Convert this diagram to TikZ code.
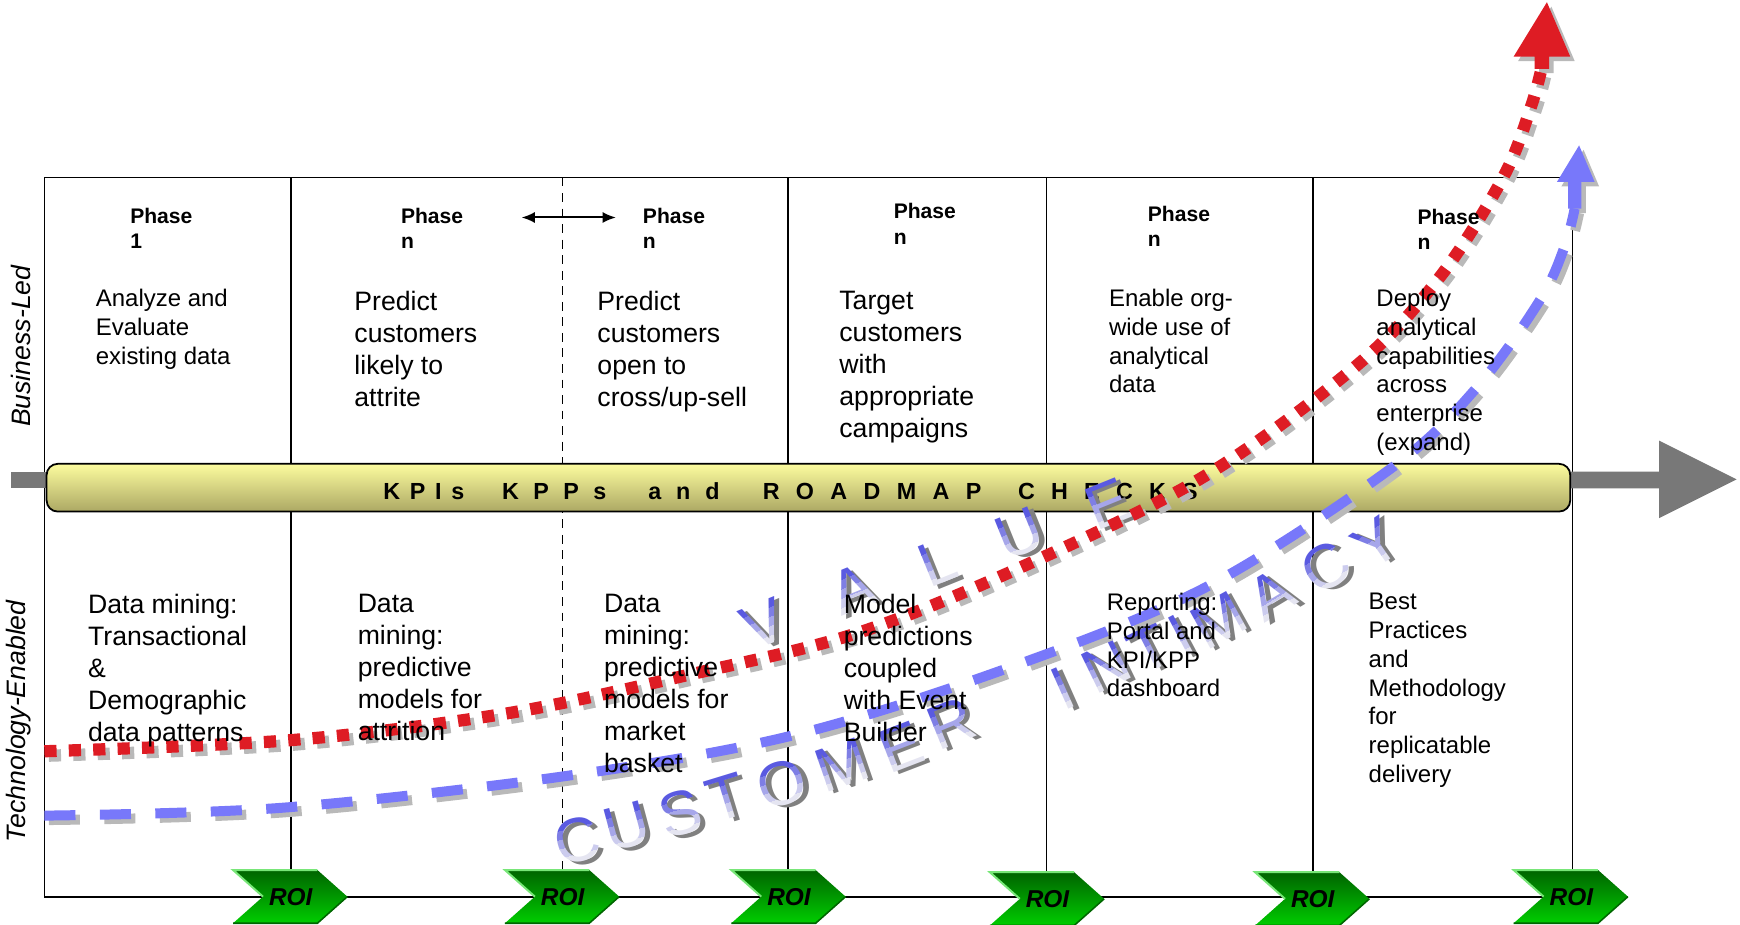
\documentclass[tikz,border=0pt]{standalone}
\usepackage{fontspec}
\setmainfont{Liberation Sans}
\usetikzlibrary{arrows.meta}
\definecolor{redc}{RGB}{222,28,36}
\definecolor{bluec}{RGB}{120,120,250}
\definecolor{shadowc}{RGB}{185,185,185}
\definecolor{arrowgray}{RGB}{120,120,120}
\definecolor{barTop}{RGB}{252,252,158}
\definecolor{barBot}{RGB}{172,168,100}
\definecolor{roiDark}{RGB}{0,100,0}
\definecolor{roiLight}{RGB}{0,205,0}
\definecolor{roiEdge}{RGB}{120,230,120}
\definecolor{gblue}{RGB}{90,90,225}
\definecolor{valwhite}{RGB}{236,236,242}
\definecolor{lettershade}{RGB}{128,128,128}
\tikzset{
  frameline/.style={line width=0.8pt, black},
  phase/.style={font=\fontsize{9.5}{11.5}\selectfont\bfseries, anchor=north west, align=left, inner sep=0pt},
  bigtxt/.style={font=\fontsize{12}{14.4}\selectfont, anchor=north west, align=left, inner sep=0pt},
  smalltxt/.style={font=\fontsize{10.8}{13}\selectfont, anchor=north west, align=left, inner sep=0pt},
  sidelabel/.style={font=\fontsize{12}{14}\selectfont\itshape, rotate=90, inner sep=0pt},
  valfront/.style={font=\fontsize{28}{28}\selectfont, inner sep=0pt, anchor=center},
  valshadow/.style={valfront, text=lettershade},
  redline/.style={line width=5.5pt, dash pattern=on 5.5pt off 5.5pt, draw=redc},
  blueline/.style={line width=4.5pt, dash pattern=on 14pt off 11pt, draw=bluec},
  shadowed/.style={draw=shadowc, shift={(4,4)}},
  roishape/.style={top color=roiDark, bottom color=roiLight},
  roitext/.style={font=\fontsize{11}{13}\selectfont\bfseries\itshape, inner sep=0pt}
}
\newcommand\gl[5]{%
  \begin{scope}[shift={(#1,#2)}, rotate=#3, transform shape]
    \node[valshadow] (#5s) at (1.8pt,-1.8pt) {#4};
    \foreach \lo/\hi/\c in {-16pt/-6pt/5, -6pt/-2pt/22, -2pt/2pt/48, 2pt/6pt/75, 6pt/16pt/100}{%
      \begin{scope}
        \clip (-30pt,\lo) rectangle (30pt,\hi);
        \node[valfront, text=gblue!\c!valwhite] (#5-\c) at (0,0) {#4};
      \end{scope}}
  \end{scope}}
\newcommand\redcurve[1]{\draw[#1] plot[smooth,tension=0.55] coordinates {(40,677) (262,667) (456,643) (621,608) (771,571) (916,513) (1084,430) (1223,329) (1298,249) (1355,159) (1380,95) (1390,58)};}
\newcommand\bluecurve[1]{\draw[#1] plot[smooth,tension=0.55] coordinates {(40,735) (253,728) (505,700) (709,664) (900,605) (1087,529) (1255,421) (1331,349) (1388,270) (1410,222) (1419,188)};}
\newcommand\roi[4]{%
  \begin{scope}[shift={(#1,#2)}]
    \path[roishape] (-52,-24) -- (24,-24) -- (51,0) -- (24,24) -- (-52,24) -- (-25,0) -- cycle;
    \draw[roiEdge, line width=0.9pt] (-25,0) -- (-52,-24) -- (24,-24);
    \draw[green!40!black, line width=0.7pt] (51,0) -- (24,24) -- (-52,24);
    \node[roitext] (#3) at (0,0) {#4};
  \end{scope}}
\newcommand\spreadword[2]{\makebox[#1][s]{#2}}
\begin{document}
\begin{tikzpicture}[x=0.5pt,y=-0.5pt]
\useasboundingbox (0,0) rectangle (1568,833);
% frame
\draw[frameline] (40,160) -- (1417,160) -- (1417,808) -- (40,808) -- cycle;
\foreach \xx in {262,710,943,1183} \draw[frameline] (\xx,160) -- (\xx,808);
\draw[line width=0.7pt, dash pattern=on 4pt off 3pt] (507,160) -- (507,808);
% gray arrow
\fill[arrowgray] (10,425) rectangle (42,440);
\fill[arrowgray] (1415,425) -- (1495,425) -- (1495,397) -- (1565,432) -- (1495,467) -- (1495,440) -- (1415,440) -- cycle;
% KPI bar
\draw[rounded corners=5pt, top color=barTop, bottom color=barBot, line width=0.8pt] (42,418) rectangle (1415,461);
\node[anchor=west, inner sep=0pt, font={\fontsize{10.5}{12}\selectfont\bfseries}] (kpitext) at (345,443) {\spreadword{36.5pt}{K\hfill P\hfill I\hfill s}\hspace{17pt}\spreadword{47pt}{K\hfill P\hfill P\hfill s}\hspace{19pt}\spreadword{32pt}{a\hfill n\hfill d}\hspace{19.5pt}\spreadword{98.5pt}{R\hfill O\hfill A\hfill D\hfill M\hfill A\hfill P}\hspace{16.5pt}\spreadword{81pt}{C\hfill H\hfill E\hfill C\hfill K\hfill S}};
% side labels
\node[sidelabel] (bizled) at (19,312) {Business-Led};
\node[sidelabel] (techen) at (17,650) {Technology-Enabled};
% VALUE
\gl{688}{562}{22}{V}{v1}
\gl{768}{531}{22}{A}{v2}
\gl{845}{507}{22}{L}{v3}
\gl{919}{481}{22}{U}{v4}
\gl{998}{454}{22}{E}{v5}
% CUSTOMER INTIMACY
\gl{520}{757}{14}{C}{c1}
\gl{565}{745}{15}{U}{c2}
\gl{613}{733}{16}{S}{c3}
\gl{655}{719}{17}{T}{c4}
\gl{705}{706}{18}{O}{c5}
\gl{759}{689}{19}{M}{c6}
\gl{812}{673}{21}{E}{c7}
\gl{857}{652}{22}{R}{c8}
\gl{958}{620}{24}{I}{c9}
\gl{997}{601}{26}{N}{c10}
\gl{1036}{585}{27}{T}{c11}
\gl{1064}{573}{28}{I}{c12}
\gl{1098}{559}{29}{M}{c13}
\gl{1146}{536}{31}{A}{c14}
\gl{1195}{511}{33}{C}{c15}
\gl{1240}{489}{35}{Y}{c16}
% curves
\redcurve{redline, shadowed}
\fill[shadowc, shift={(4,4)}] (1383,62) -- (1383,51) -- (1364,51) -- (1394,2) -- (1415,51) -- (1396,51) -- (1396,62) -- cycle;
\redcurve{redline}
\fill[redc] (1383,62) -- (1383,51) -- (1364,51) -- (1394,2) -- (1415,51) -- (1396,51) -- (1396,62) -- cycle;
\bluecurve{blueline, shadowed}
\fill[shadowc, shift={(4,4)}] (1413,188) -- (1413,164) -- (1403,164) -- (1423,131) -- (1437,164) -- (1425,164) -- (1425,188) -- cycle;
\bluecurve{blueline}
\fill[bluec] (1413,188) -- (1413,164) -- (1403,164) -- (1423,131) -- (1437,164) -- (1425,164) -- (1425,188) -- cycle;
% phase labels
\node[phase] (p1) at (117,187) {Phase\\1};
\node[phase] (p2) at (361,187) {Phase\\n};
\node[phase] (p3) at (579,187) {Phase\\n};
\node[phase] (p4) at (805,183) {Phase\\n};
\node[phase] (p5) at (1034,185) {Phase\\n};
\node[phase] (p6) at (1277,188) {Phase\\n};
\coordinate (dl) at (470,196);
\coordinate (dr) at (555,196);
\draw[line width=0.9pt, {Latex[length=6pt,width=5pt]}-{Latex[length=6pt,width=5pt]}] (dl) -- (dr);
% top texts
\node[smalltxt] (t1) at (86,260) {Analyze and\\Evaluate\\existing data};
\node[bigtxt] (t2) at (319,262) {Predict\\customers\\likely to\\attrite};
\node[bigtxt] (t3) at (538,262) {Predict\\customers\\open to\\cross/up-sell};
\node[bigtxt] (t4) at (756,262) {Target\\customers\\with\\appropriate\\campaigns};
\node[smalltxt] (t5) at (999,260) {Enable org-\\wide use of\\analytical\\data};
\node[smalltxt] (t6) at (1240,260) {Deploy\\analytical\\capabilities\\across\\enterprise\\(expand)};
% bottom texts
\node[bigtxt] (b1) at (79,535) {Data mining:\\Transactional\\\&\\Demographic\\data patterns};
\node[bigtxt] (b2) at (322,535) {Data\\mining:\\predictive\\models for\\attrition};
\node[bigtxt] (b3) at (544,535) {Data\\mining:\\predictive\\models for\\market\\basket};
\node[bigtxt] (b4) at (760,535) {Model\\predictions\\coupled\\with Event\\Builder};
\node[smalltxt] (b5) at (997,534) {Reporting:\\Portal and\\KPI/KPP\\dashboard};
\node[smalltxt] (b6) at (1233,534) {Best\\Practices\\and\\Methodology\\for\\replicatable\\delivery};
% ROI chevrons
\roi{262}{808}{roi1}{ROI}
\roi{507}{808}{roi2}{ROI}
\roi{711}{808}{roi3}{ROI}
\roi{944}{810}{roi4}{ROI}
\roi{1183}{810}{roi5}{ROI}
\roi{1416}{808}{roi6}{ROI}
\end{tikzpicture}
\end{document}
